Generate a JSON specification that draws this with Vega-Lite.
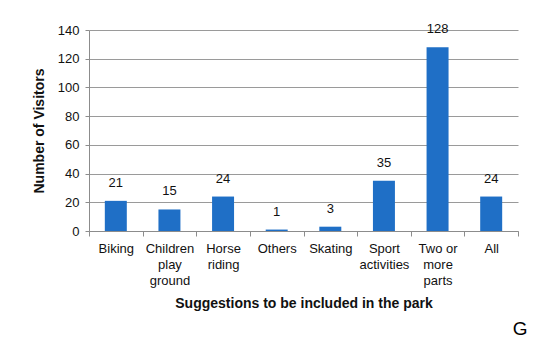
{
  "$schema": "https://vega.github.io/schema/vega-lite/v6.json",
  "autosize": "none",
  "width": 429,
  "height": 201,
  "padding": {"left": 89, "top": 30, "right": 32, "bottom": 112},
  "background": "white",
  "config": {
    "font": "Liberation Sans",
    "view": {"stroke": null},
    "axis": {
      "labelFont": "Liberation Sans",
      "titleFont": "Liberation Sans",
      "labelFontSize": 13,
      "titleFontSize": 14,
      "labelColor": "#111",
      "titleColor": "#111",
      "domainColor": "#8c8c8c",
      "tickColor": "#8c8c8c",
      "gridColor": "#9a9a9a",
      "titleFontWeight": "bold"
    }
  },
  "title": {
    "text": "G",
    "orient": "bottom",
    "anchor": "end",
    "fontSize": 19,
    "fontWeight": "normal",
    "font": "Liberation Sans",
    "color": "#000",
    "offset": 10,
    "dx": 9
  },
  "data": {
    "values": [
      {"category": "Biking", "visitors": 21},
      {"category": "Children play ground", "visitors": 15},
      {"category": "Horse riding", "visitors": 24},
      {"category": "Others", "visitors": 1},
      {"category": "Skating", "visitors": 3},
      {"category": "Sport activities", "visitors": 35},
      {"category": "Two or more parts", "visitors": 128},
      {"category": "All", "visitors": 24}
    ]
  },
  "encoding": {
    "x": {
      "field": "category",
      "type": "nominal",
      "sort": null,
      "scale": {"paddingInner": 0, "paddingOuter": 0},
      "axis": {
        "title": "Suggestions to be included in the park",
        "labelAngle": 0,
        "tickBand": "extent",
        "tickSize": 5,
        "labelPadding": 6,
        "titlePadding": 9,
        "labelLineHeight": 16,
        "labelExpr": "datum.value == 'Children play ground' ? ['Children','play','ground'] : datum.value == 'Horse riding' ? ['Horse','riding'] : datum.value == 'Sport activities' ? ['Sport','activities'] : datum.value == 'Two or more parts' ? ['Two or','more','parts'] : datum.value",
        "grid": false
      }
    },
    "y": {
      "field": "visitors",
      "type": "quantitative",
      "scale": {"domain": [0, 140]},
      "axis": {
        "title": "Number of Visitors",
        "values": [0, 20, 40, 60, 80, 100, 120, 140],
        "tickSize": 4,
        "labelPadding": 6,
        "titlePadding": 11,
        "grid": true
      }
    }
  },
  "layer": [
    {
      "mark": {"type": "bar", "color": "#1f6fc6", "width": {"band": 0.41}}
    },
    {
      "mark": {"type": "text", "baseline": "bottom", "dy": -11, "fontSize": 13, "color": "#111"},
      "encoding": {"text": {"field": "visitors", "type": "quantitative"}}
    }
  ]
}
